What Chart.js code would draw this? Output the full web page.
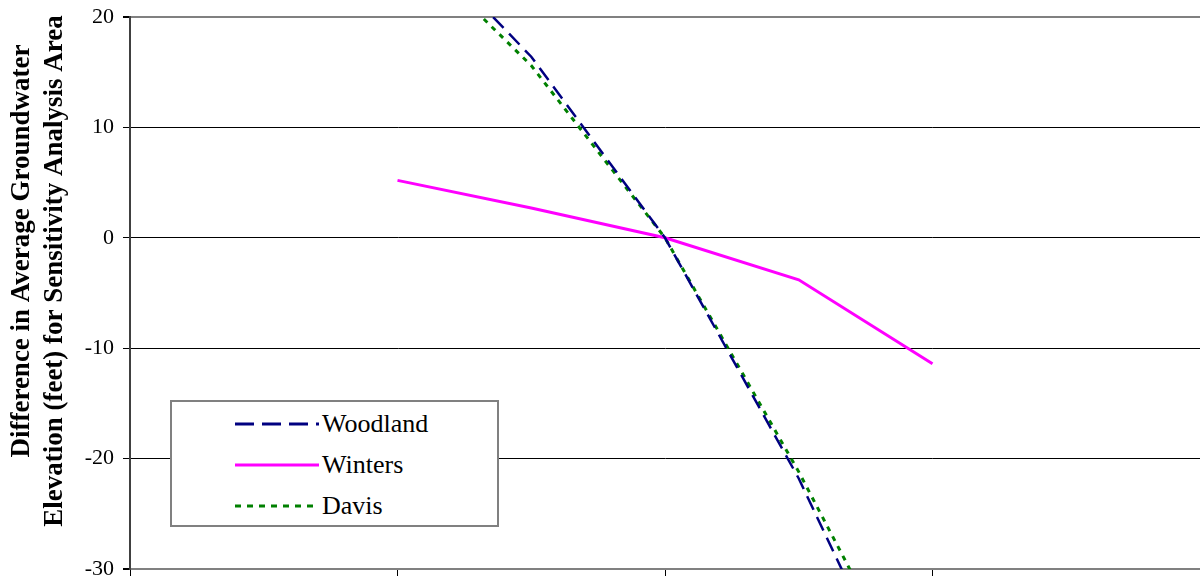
<!DOCTYPE html>
<html>
<head>
<meta charset="utf-8">
<script src="https://cdn.jsdelivr.net/npm/chart.js@4/dist/chart.umd.min.js"></script>
<style>
  html, body { margin: 0; padding: 0; background: #fff; }
  #wrap { position: relative; width: 1200px; height: 578px; }
  #legend {
    position: absolute; left: 170px; top: 400px; width: 325px; height: 123px;
    border: 2px solid #808080; background: #fff;
    font-family: "Liberation Serif", serif; font-size: 26px; color: #000;
  }
  #legend .row { position: absolute; left: 0; height: 40px; width: 100%; }
  #legend svg { position: absolute; left: 63px; top: 0; }
  #legend span { position: absolute; left: 150px; top: 3px; line-height: 34px; }
</style>
</head>
<body>
<div id="wrap">
  <canvas id="chart" width="1200" height="578"></canvas>
  <div id="legend"></div>
</div>
<script>
// x positions (sensitivity steps)
var xSteps = [2, 3, 4, 5, 6];
var woodland = [29.0, 16.4, 0, -21.8, -47.4];
var winters = [5.2, 2.7, 0, -3.8, -11.4];
var davis = [27.5, 15.6, 0, -21.2, -44.3];
var yTicks = [-30, -20, -10, 0, 10, 20];
var yTitle = ['Difference in Average Groundwater', 'Elevation (feet) for Sensitivity Analysis Area'];

function toPoints(values) {
    return values.map(function(v, i) { return { x: xSteps[i], y: v }; });
}

var datasets = [
    { label: 'Woodland', data: toPoints(woodland), borderColor: '#000080', borderWidth: 2.5, borderDash: [15, 8] },
    { label: 'Winters', data: toPoints(winters), borderColor: '#ff00ff', borderWidth: 3, borderDash: [] },
    { label: 'Davis', data: toPoints(davis), borderColor: '#008000', borderWidth: 3, borderDash: [5, 6] }
];
datasets.forEach(function(d) {
    d.pointRadius = 0;
    d.tension = 0;
    d.fill = false;
});

// y-axis title, drawn a bit above the plot centre like the original
var yTitlePlugin = {
    id: 'yTitle',
    afterDraw: function(chart) {
        var ctx = chart.ctx;
        var mid = (chart.chartArea.top + chart.chartArea.bottom) / 2;
        ctx.save();
        ctx.fillStyle = '#000';
        ctx.font = 'bold 27px "Liberation Serif"';
        ctx.textAlign = 'center';
        ctx.textBaseline = 'middle';
        yTitle.forEach(function(line, i) {
            ctx.save();
            ctx.translate(22 + i * 33, mid - 42 + i * 20);
            ctx.rotate(-Math.PI / 2);
            ctx.fillText(line, 0, 0);
            ctx.restore();
        });
        ctx.restore();
    }
};

var chart = new Chart(document.getElementById('chart').getContext('2d'), {
    type: 'line',
    data: { datasets: datasets },
    plugins: [yTitlePlugin],
    options: {
        responsive: false,
        animation: false,
        layout: { padding: { top: 17, bottom: 2, left: 0, right: 0 } },
        plugins: { legend: { display: false }, tooltip: { enabled: false } },
        scales: {
            x: {
                type: 'linear',
                min: 0,
                max: 8,
                ticks: { display: false, stepSize: 2 },
                grid: { drawOnChartArea: false, drawTicks: true, tickLength: 7, color: '#000' },
                border: { color: '#808080', width: 2 }
            },
            y: {
                min: -30,
                max: 20,
                afterBuildTicks: function(scale) {
                    scale.ticks = yTicks.map(function(v) { return { value: v }; });
                },
                afterFit: function(scale) {
                    scale.width = 130;
                    scale.paddingTop = 0;
                    scale.paddingBottom = 0;
                },
                ticks: {
                    color: '#000',
                    padding: 9,
                    font: { family: 'Liberation Serif', size: 22 }
                },
                grid: {
                    tickLength: 7,
                    color: function(ctx) {
                        var v = ctx.tick && ctx.tick.value;
                        return (v === 20 || v === -30) ? '#808080' : '#000';
                    },
                    lineWidth: function(ctx) {
                        var v = ctx.tick && ctx.tick.value;
                        return (v === 20 || v === -30) ? 2 : 1;
                    },
                    tickColor: '#000'
                },
                border: { color: '#404040', width: 2 }
            }
        }
    }
});

// legend built from the chart's own datasets
var legend = document.getElementById('legend');
chart.data.datasets.forEach(function(d, i) {
    var row = document.createElement('div');
    row.className = 'row';
    row.style.top = (i * 41 + 2) + 'px';
    var dash = d.borderDash.length ? ' stroke-dasharray="' + (i === 0 ? '19,8' : '6,6') + '"' : '';
    row.innerHTML = '<svg width="84" height="40"><line x1="0" y1="20" x2="84" y2="20" stroke="' + d.borderColor +
        '" stroke-width="3"' + dash + '/></svg><span>' + d.label + '</span>';
    legend.appendChild(row);
});
</script>
</body>
</html>
